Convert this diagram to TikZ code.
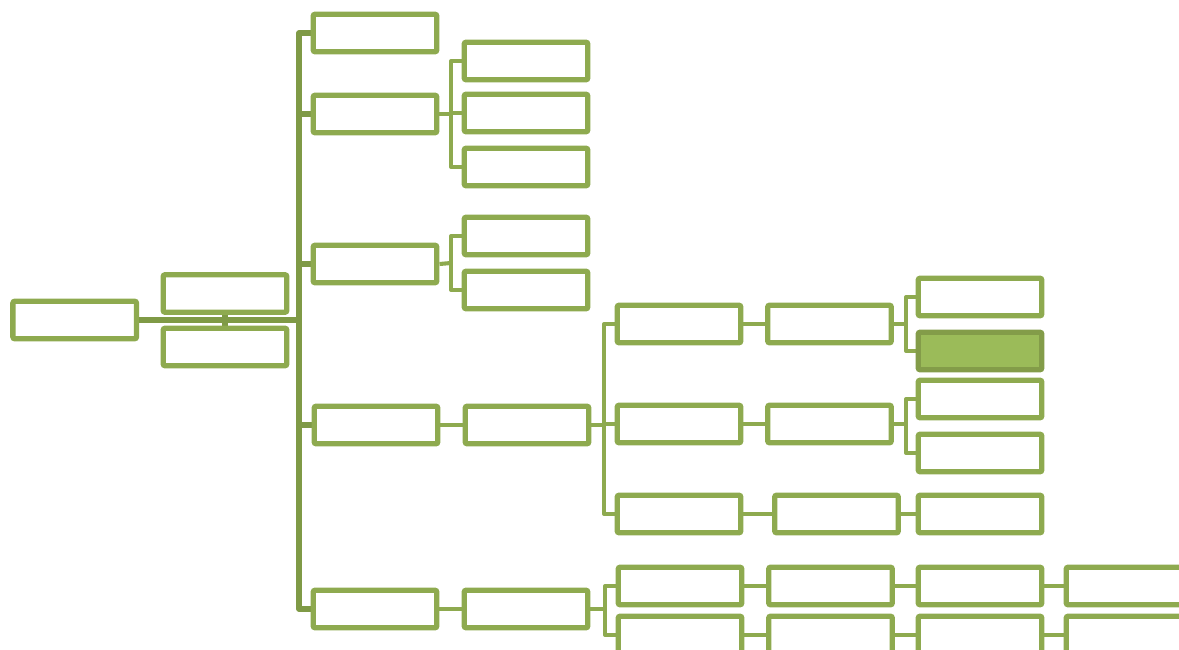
\documentclass[tikz,border=0pt]{standalone}
\usepackage{tikz}
\usetikzlibrary{positioning, calc, backgrounds}
\definecolor{leafgreen}{RGB}{142, 170, 79}
\definecolor{trunkgreen}{RGB}{127, 154, 70}
\definecolor{fillgreen}{RGB}{155, 187, 89}

\begin{document}
\begin{tikzpicture}[x=0.025cm, y=-0.025cm,
      box/.style={rectangle, draw=leafgreen, fill=white, line width=3.8pt, rounded corners=1.5pt, minimum width=3.09cm, minimum height=0.94cm, inner sep=0pt},
      hot/.style={box, draw=leafgreen!92!black, fill=fillgreen},
      trunk/.style={draw=trunkgreen, line width=3.8pt, line cap=round, line join=round},
      link/.style={draw=leafgreen, line width=2.9pt, line join=round}
    ]
      \useasboundingbox (0,0) rectangle (1179,650);
      \clip (0,0) rectangle (1179,650);

      \coordinate (t) at (299,320);
      \coordinate (b2) at (451,114);
      \coordinate (b3) at (451,263);
      \coordinate (d1) at (604,425);
      \coordinate (f1) at (906,324);
      \coordinate (f2) at (906,424);
      \coordinate (d2) at (605,609);

      \node[box] (R) at (74.7,320) {};
      \node[box] (A1) at (225,293.5) {};
      \node[box] (A2) at (225,347) {};

      \node[box] (B1) at (375,33) {};
      \node[box] (B2) at (375,114) {};
      \node[box] (B3) at (375,264) {};
      \node[box] (B4) at (376,425) {};
      \node[box] (B5) at (375,609) {};

      \node[box] (C1) at (526,61) {};
      \node[box] (C2) at (526,113) {};
      \node[box] (C3) at (526,167) {};
      \node[box] (C4) at (526,236) {};
      \node[box] (C5) at (526,290) {};

      \node[box] (D1) at (527,425) {};
      \node[box] (D2) at (526,609) {};

      \node[box] (E1) at (679,324) {};
      \node[box] (E2) at (679,424) {};
      \node[box] (E3) at (679,514) {};
      \node[box] (F1) at (829.5,324) {};
      \node[box] (F2) at (829.5,424) {};
      \node[box] (F3) at (836.5,514) {};

      \node[box] (G1) at (980,297) {};
      \node[hot] (G2) at (980,351) {};
      \node[box] (G3) at (980,399) {};
      \node[box] (G4) at (980,453) {};
      \node[box] (G5) at (980,514) {};

      \node[box] (H1) at (680,586) {};
      \node[box] (H2) at (680,635) {};
      \node[box] (I1) at (830.5,586) {};
      \node[box] (I2) at (830.5,635) {};
      \node[box] (J1) at (980,586) {};
      \node[box] (J2) at (980,635) {};
      \node[box] (K1) at (1128,586) {};
      \node[box] (K2) at (1128,635) {};

      \begin{scope}[on background layer]
      % root and main trunk
      \draw[trunk] (R.east) -- (t);
      \draw[trunk] (A1) -- (A2);
      \draw[trunk] (B1.west) -| (t) |- (B5.west);
      \draw[trunk] (B2.west) -- (B2.west -| t);
      \draw[trunk] (B3.west) -- (B3.west -| t);
      \draw[trunk] (B4.west) -- (B4.west -| t);

      % second level brackets
      \draw[link] (B2.east) -- (b2);
      \draw[link] (C1.west) -| (b2) |- (C3.west);
      \draw[link] (C2.west) -- (C2.west -| b2);
      \draw[link] (B3.east) -- (b3);
      \draw[link] (C4.west) -| (b3) |- (C5.west);

      % middle branch
      \draw[link] (B4) -- (D1);
      \draw[link] (D1.east) -- (d1);
      \draw[link] (E1.west) -| (d1) |- (E3.west);
      \draw[link] (E2.west) -- (E2.west -| d1);
      \draw[link] (E1) -- (F1);
      \draw[link] (E2) -- (F2);
      \draw[link] (E3) -- (F3);
      \draw[link] (F3) -- (G5);
      \draw[link] (F1.east) -- (f1);
      \draw[link] (G1.west) -| (f1) |- (G2.west);
      \draw[link] (F2.east) -- (f2);
      \draw[link] (G3.west) -| (f2) |- (G4.west);

      % bottom branch
      \draw[link] (B5) -- (D2);
      \draw[link] (D2.east) -- (d2);
      \draw[link] (H1.west) -| (d2) |- (H2.west);
      \draw[link] (H1) -- (I1);
      \draw[link] (I1) -- (J1);
      \draw[link] (J1) -- (K1);
      \draw[link] (H2) -- (I2);
      \draw[link] (I2) -- (J2);
      \draw[link] (J2) -- (K2);
      \end{scope}
    \end{tikzpicture}
\end{document}
